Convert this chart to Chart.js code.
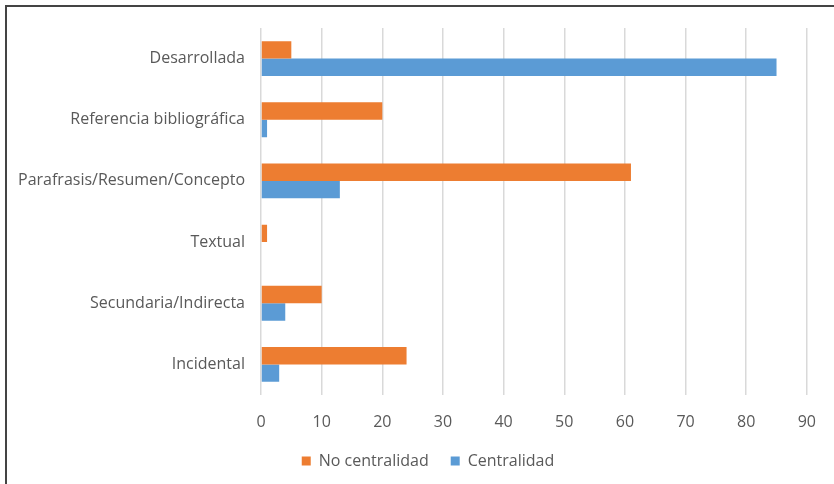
<!DOCTYPE html>
<html>
<head>
<meta charset="utf-8">
<script src="https://cdn.jsdelivr.net/npm/chart.js@4"></script>
<style>
  body { margin: 0; background: #fff; }
  #wrap { position: relative; width: 834px; height: 484px; }
  #frame {
    position: absolute; left: 5px; top: 5px; right: 0; bottom: 0;
    border-left: 2px solid #444; border-top: 2px solid #444;
    pointer-events: none;
  }
</style>
</head>
<body>
<div id="wrap">
  <canvas id="myChart" width="834" height="484"></canvas>
  <div id="frame"></div>
</div>
<script>
'use strict';

//========== Data ==========
let categories = ['Desarrollada', 'Referencia bibliográfica', 'Parafrasis/Resumen/Concepto', 'Textual', 'Secundaria/Indirecta', 'Incidental'];
let noCentralidad = [5, 20, 61, 1, 10, 24];
let centralidad = [85, 1, 13, 0, 4, 3];
let xTicks = [0, 10, 20, 30, 40, 50, 60, 70, 80, 90];

//========== Chart ==========
let textColor = '#595959';
Chart.defaults.font.family = '"Open Sans", sans-serif';
Chart.defaults.font.size = 16;
Chart.defaults.color = textColor;

let ctx = document.getElementById('myChart').getContext('2d');

// nudge the legend to the right so it sits where the original one does
let legendShift = {
  id: 'legendShift',
  afterLayout(chart) {
    chart.legend.left += 24;
    chart.legend.right += 24;
  }
};

let myChart = new Chart(ctx, {
  type: 'bar',
  data: {
    labels: categories,
    datasets: [{
      label: 'No centralidad',
      data: noCentralidad,
      backgroundColor: '#ED7D31',
      borderWidth: 0
    },
    {
      label: 'Centralidad',
      data: centralidad,
      backgroundColor: '#5B9BD5',
      borderWidth: 0
    }]
  },
  options: {
    indexAxis: 'y',
    responsive: false,
    animation: false,
    layout: {
      padding: { top: 28, right: 26, bottom: 5, left: 0 }
    },
    datasets: {
      bar: { categoryPercentage: 0.57, barPercentage: 1 }
    },
    scales: {
      x: {
        min: xTicks[0],
        max: xTicks[xTicks.length - 1],
        afterBuildTicks: (axis) => { axis.ticks = xTicks.map(v => ({ value: v })); },
        afterFit: (axis) => { axis.height = 36; },
        grid: { color: '#d9d9d9', lineWidth: 1.5, drawTicks: false },
        border: { display: false },
        ticks: { padding: 18 }
      },
      y: {
        afterFit: (axis) => { axis.width = 261; },
        grid: { display: false, drawTicks: false },
        border: { display: false },
        ticks: { padding: 16 }
      }
    },
    plugins: {
      legend: {
        position: 'bottom',
        labels: { boxWidth: 9, boxHeight: 9, padding: 22 }
      },
      tooltip: { enabled: false }
    }
  },
  plugins: [legendShift]
});
</script>
</body>
</html>
